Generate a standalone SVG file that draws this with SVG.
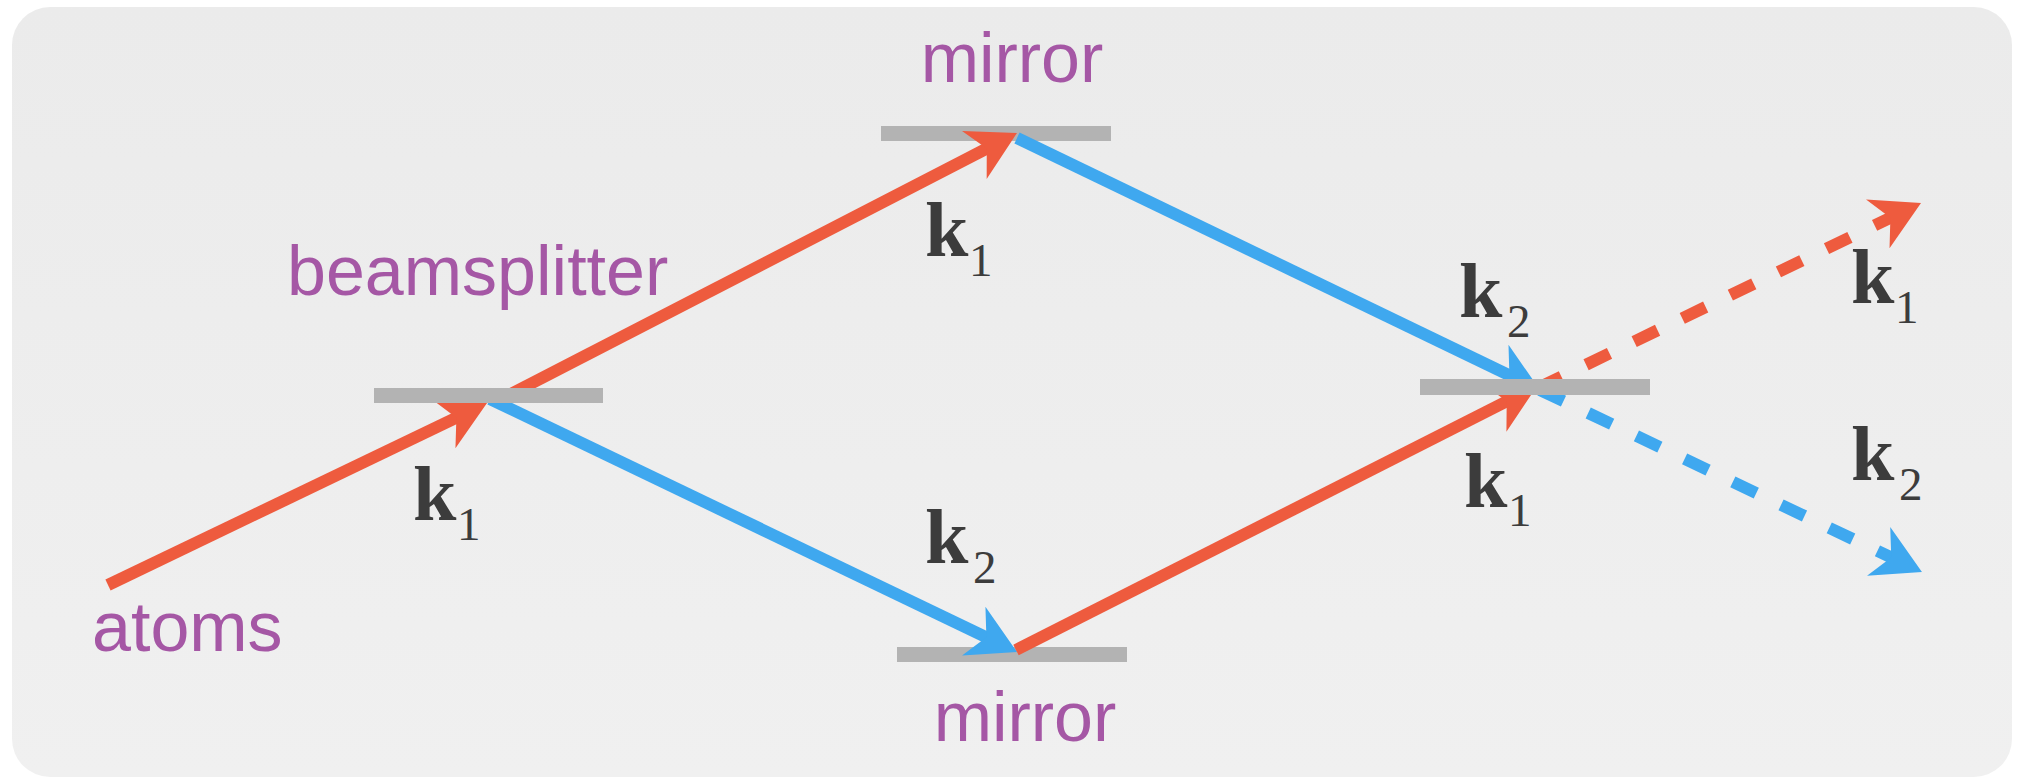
<svg xmlns="http://www.w3.org/2000/svg" width="2017" height="781" viewBox="0 0 2017 781">
<style>
.bar{fill:#b3b3b3}
.lbl{font-family:"Liberation Sans",Arial,sans-serif;font-size:70px;fill:#a557a5}
.k{font-family:"Liberation Serif","Times New Roman",serif;font-size:78px;font-weight:bold;fill:#3c3c3c}
.sub{font-size:47px;font-weight:normal}
.o{fill:none;stroke:#ee5b3e;stroke-width:12}
.b{fill:none;stroke:#3fa8ef;stroke-width:12}
.d{stroke-dasharray:26 27.4}
</style>
<defs>
<linearGradient id="bg" x1="0" y1="0" x2="0" y2="1">
<stop offset="0" stop-color="#ebebeb"/>
<stop offset="1" stop-color="#f0f0f0"/>
</linearGradient>
<marker id="ah-o" markerUnits="userSpaceOnUse" markerWidth="50" markerHeight="56" viewBox="0 0 50 56" refX="28" refY="28" orient="auto">
<path d="M48,28 L0,1 L14,28 L0,55 Z" fill="#ee5b3e"/>
</marker>
<marker id="ah-b" markerUnits="userSpaceOnUse" markerWidth="50" markerHeight="56" viewBox="0 0 50 56" refX="28" refY="28" orient="auto">
<path d="M48,28 L0,1 L14,28 L0,55 Z" fill="#3fa8ef"/>
</marker>
</defs>
<rect x="12" y="7" width="2000" height="770" rx="38" ry="38" fill="url(#bg)"/>

<g id="mirror-top">
<rect class="bar" x="881" y="126" width="230" height="15"/>
<text class="lbl" x="1012" y="82" text-anchor="middle">mirror</text>
</g>
<g id="mirror-bottom">
<rect class="bar" x="897" y="647" width="230" height="15"/>
<text class="lbl" x="1025" y="741" text-anchor="middle">mirror</text>
</g>
<g id="atoms">
<text class="lbl" x="92" y="651">atoms</text>
</g>

<g id="connectors">
<path class="o" d="M108,585 L469,411.7" marker-end="url(#ah-o)"/>
<path class="o" d="M509,395 L999.2,142.2" marker-end="url(#ah-o)"/>
<path class="b" d="M490,399 L999,643.3" marker-end="url(#ah-b)"/>
<path class="b" d="M1017,138 L1522,381.3" marker-end="url(#ah-b)"/>
<path class="o" d="M1016,650 L1519.2,395" marker-end="url(#ah-o)"/>
<path class="o d" d="M1538,388 L1903,211.7" marker-end="url(#ah-o)"/>
<path class="b d" d="M1540,390 L1903.9,563.4" marker-end="url(#ah-b)"/>
</g>

<g id="beamsplitter-1">
<rect class="bar" x="374" y="388" width="229" height="15"/>
<text class="lbl" x="287" y="295">beamsplitter</text>
</g>
<g id="beamsplitter-2">
<rect class="bar" x="1420" y="379" width="230" height="16"/>
</g>

<g id="labels">
<text class="k" x="413" y="520">k<tspan class="sub" x="457" y="540">1</tspan></text>
<text class="k" x="925" y="256">k<tspan class="sub" x="969" y="276">1</tspan></text>
<text class="k" x="925" y="563">k<tspan class="sub" x="973" y="583">2</tspan></text>
<text class="k" x="1459" y="317">k<tspan class="sub" x="1507" y="337">2</tspan></text>
<text class="k" x="1851" y="303">k<tspan class="sub" x="1895" y="323">1</tspan></text>
<text class="k" x="1464" y="507">k<tspan class="sub" x="1508" y="526">1</tspan></text>
<text class="k" x="1851" y="480">k<tspan class="sub" x="1899" y="500">2</tspan></text>
</g>
</svg>
